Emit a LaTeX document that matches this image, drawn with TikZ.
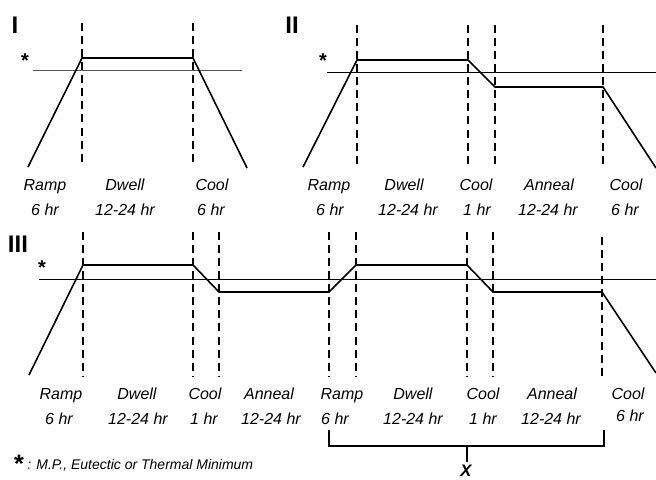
\documentclass[tikz,border=0pt]{standalone}
\usepackage{fontspec}
\setmainfont{Liberation Sans}
\begin{document}
\begin{tikzpicture}[x=0.75pt,y=-0.75pt,
  prof/.style={line width=1.2pt,line join=miter},
  ref/.style={line width=0.7pt},
  refg/.style={line width=0.7pt,draw=black!65},
  dsh/.style={line width=1.4pt,dash pattern=on 6pt off 3.8pt},
  lab/.style={font=\fontsize{12}{13}\selectfont\itshape,inner sep=0pt,anchor=base},
  roman/.style={font=\fontsize{18}{18}\selectfont\bfseries,inner sep=0pt,anchor=base},
  star/.style={font=\fontsize{15}{15}\selectfont\bfseries,inner sep=0pt,anchor=base},
  brk/.style={line width=1pt}]
\useasboundingbox (0,0) rectangle (656,479);
% ---------- Panel I ----------
\node[roman] (nI) at (15,33) {I};
\node[star] (sI) at (25,67) {*};
\draw[refg] (33,70) -- (242,70);
\draw[dsh] (82,23) -- (82,165);
\draw[dsh] (193,23) -- (193,165);
\coordinate (a1) at (28,167);
\coordinate (a2) at (82,58);
\coordinate (a3) at (193,58);
\coordinate (a4) at (247,168);
\draw[prof] (a1) -- (a2) -- (a3) -- (a4);
\node[lab] (l1) at (45,190) {Ramp};
\node[lab] (l2) at (125,190) {Dwell};
\node[lab] (l3) at (212,190) {Cool};
\node[lab] (l4) at (45,215) {6 hr};
\node[lab] (l5) at (125,215) {12-24 hr};
\node[lab] (l6) at (211,215) {6 hr};
% ---------- Panel II ----------
\node[roman] (nII) at (292,33) {II};
\node[star] (sII) at (323,67) {*};
\draw[ref] (327,72) -- (656,72);
\draw[dsh] (357,25) -- (357,165);
\draw[dsh] (468,25) -- (468,165);
\draw[dsh] (495,25) -- (495,165);
\draw[dsh] (603,25) -- (603,165);
\coordinate (b1) at (303,167);
\coordinate (b2) at (357,60);
\coordinate (b3) at (468,60);
\coordinate (b4) at (495,87);
\coordinate (b5) at (603,87);
\coordinate (b6) at (656,168);
\draw[prof] (b1) -- (b2) -- (b3) -- (b4) -- (b5) -- (b6);
\node[lab] (m1) at (329,190) {Ramp};
\node[lab] (m2) at (404,190) {Dwell};
\node[lab] (m3) at (476,190) {Cool};
\node[lab] (m4) at (549,190) {Anneal};
\node[lab] (m5) at (626,190) {Cool};
\node[lab] (m6) at (330,215) {6 hr};
\node[lab] (m7) at (408,215) {12-24 hr};
\node[lab] (m8) at (477,215) {1 hr};
\node[lab] (m9) at (548,215) {12-24 hr};
\node[lab] (m10) at (625,215) {6 hr};
% ---------- Panel III ----------
\node[roman] (nIII) at (18,252) {III};
\node[star] (sIII) at (42,274) {*};
\draw[ref] (39,279) -- (656,279);
\draw[dsh] (83,232) -- (83,376);
\draw[dsh] (193,232) -- (193,376);
\draw[dsh] (219,232) -- (219,376);
\draw[dsh] (329,232) -- (329,376);
\draw[dsh] (356,232) -- (356,376);
\draw[dsh] (467,232) -- (467,376);
\draw[dsh] (493,232) -- (493,376);
\draw[dsh] (602,237) -- (602,376);
\coordinate (c1) at (29,375);
\coordinate (c2) at (83,265);
\coordinate (c3) at (193,265);
\coordinate (c4) at (219,292);
\coordinate (c5) at (329,292);
\coordinate (c6) at (356,265);
\coordinate (c7) at (467,265);
\coordinate (c8) at (493,292);
\coordinate (c9) at (602,292);
\coordinate (c10) at (656,373);
\draw[prof] (c1) -- (c2) -- (c3) -- (c4) -- (c5) -- (c6) -- (c7) -- (c8) -- (c9) -- (c10);
\node[lab] (n1) at (61,399) {Ramp};
\node[lab] (n2) at (137,399) {Dwell};
\node[lab] (n3) at (205,399) {Cool};
\node[lab] (n4) at (269,399) {Anneal};
\node[lab] (n5) at (342,399) {Ramp};
\node[lab] (n6) at (413,399) {Dwell};
\node[lab] (n7) at (483,399) {Cool};
\node[lab] (n8) at (552,399) {Anneal};
\node[lab] (n9) at (628,399) {Cool};
\node[lab] (n10) at (59,424) {6 hr};
\node[lab] (n11) at (138,424) {12-24 hr};
\node[lab] (n12) at (204,424) {1 hr};
\node[lab] (n13) at (271,424) {12-24 hr};
\node[lab] (n14) at (335,424) {6 hr};
\node[lab] (n15) at (413,424) {12-24 hr};
\node[lab] (n16) at (483,424) {1 hr};
\node[lab] (n17) at (551,424) {12-24 hr};
\node[lab] (n18) at (630,421) {6 hr};
% ---------- bracket ----------
\coordinate (k1) at (329,430);
\coordinate (k2) at (329,446);
\coordinate (k3) at (604,446);
\coordinate (k4) at (604,430);
\coordinate (km) at (467,446);
\coordinate (kt) at (467,462);
\node[font=\fontsize{12.5}{13}\selectfont\bfseries\itshape,inner sep=0pt,anchor=base] (X) at (466,476) {X};
\draw[brk] (k1) -- (k2) -- (k3) -- (k4);
\draw[brk] (km) -- (kt);
% ---------- footnote ----------
\node[font=\fontsize{19}{19}\selectfont\bfseries,inner sep=0pt,anchor=base] (fs) at (19,472) {*};
\node[font=\fontsize{10.5}{12}\selectfont\itshape,inner sep=0pt,anchor=base west] (ft) at (27,469) {: M.P., Eutectic or Thermal Minimum};
\end{tikzpicture}
\end{document}
